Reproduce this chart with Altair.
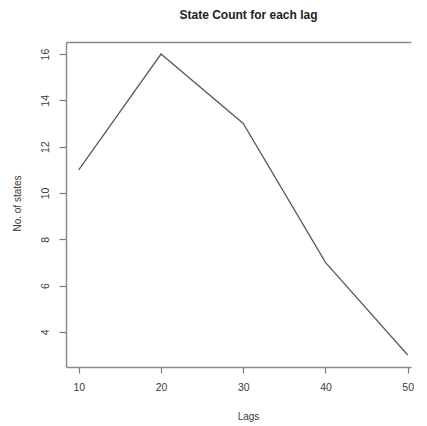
import altair as alt
import pandas as pd

lags = [10, 20, 30, 40, 50]
states = [11, 16, 13, 7, 3]
x_ticks = [10, 20, 30, 40, 50]
y_ticks = [4, 6, 8, 10, 12, 14, 16]

df = pd.DataFrame({"Lags": lags, "States": states})

FONT = "Liberation Sans"
xscale = alt.Scale(domain=[8.45, 50.4], nice=False, zero=False)
yscale = alt.Scale(domain=[2.48, 16.52], nice=False, zero=False)

line = alt.Chart(df).mark_line(color="#5a5a5a", strokeWidth=1.3).encode(
    x=alt.X("Lags:Q", scale=xscale,
            axis=alt.Axis(values=x_ticks, grid=False, domain=True, domainColor="#8a8a8a",
                          domainWidth=1.5, tickColor="#7a7a7a", tickSize=6, tickWidth=1.2,
                          labelPadding=9, labelFontSize=10.5, labelColor="#3a3a3a",
                          labelFont=FONT, title="Lags", titleFont=FONT, titleFontSize=10,
                          titleFontWeight="normal", titleColor="#3a3a3a",
                          titleX=182, titleY=49, titleBaseline="middle", titleAnchor="start",
                          titleAlign="center", labelFlush=False, labelOverlap=False)),
    y=alt.Y("States:Q", scale=yscale,
            axis=alt.Axis(values=y_ticks, grid=False, domain=True, domainColor="#8a8a8a",
                          domainWidth=1.5, tickColor="#7a7a7a", tickSize=7, tickWidth=1.2,
                          labelAngle=-90, labelAlign="center", labelBaseline="bottom",
                          labelPadding=9, labelFontSize=10.5, labelColor="#3a3a3a",
                          labelFont=FONT, title="No. of states", titleFont=FONT,
                          titleFontSize=10, titleFontWeight="normal", titleColor="#3a3a3a",
                          titleAngle=-90, titleX=-49, titleY=161, titleAlign="center",
                          titleBaseline="middle", labelFlush=False, labelOverlap=False)),
)

top = alt.Chart(df).mark_line(opacity=0).encode(
    x=alt.X("Lags:Q", scale=xscale,
            axis=alt.Axis(orient="top", labels=False, ticks=False, grid=False, title=None,
                          domain=True, domainColor="#8a8a8a", domainWidth=1.5)),
    y=alt.Y("States:Q", scale=yscale),
)

chart = alt.layer(line, top).resolve_axis(x="independent").properties(
    width=345,
    height=325,
    autosize=alt.AutoSizeParams(type="none"),
    padding={"left": 58, "top": 34, "right": 8, "bottom": 56},
    title=alt.TitleParams("State Count for each lag", font=FONT, fontSize=12,
                          fontWeight="bold", color="#222222", offset=20, dx=10,
                          anchor="middle"),
).configure_view(stroke=None)

chart.save("out.html", embed_options={"renderer": "svg", "actions": False})
